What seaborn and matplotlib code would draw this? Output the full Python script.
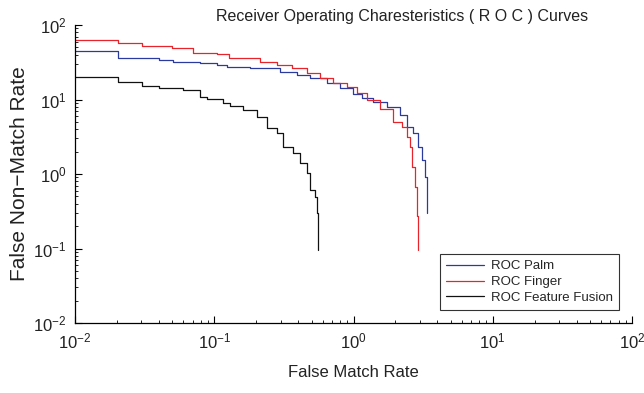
import numpy as np
import pandas as pd
import matplotlib
matplotlib.use("Agg")
import matplotlib.pyplot as plt
import seaborn as sns
from matplotlib.ticker import LogLocator, NullFormatter, FixedLocator, FixedFormatter

# ---- data ----
palm_fmr = [0.01, 0.0204, 0.0401, 0.0505, 0.0789, 0.1045, 0.1233, 0.180, 0.296, 0.392,
            0.486, 0.644, 0.798, 0.990, 1.15, 1.378, 1.738, 2.153, 2.417, 2.67, 2.90,
            3.10, 3.26, 3.37]
palm_fnmr = [45.2, 36.4, 34.2, 31.6, 30.6, 29.0, 27.1, 26.2, 23.6, 21.3,
             19.3, 16.5, 14.1, 11.85, 10.6, 9.3, 8.0, 6.19, 4.31, 3.52, 2.32,
             1.54, 0.92, 0.297]

finger_fmr = [0.01, 0.0204, 0.0303, 0.0497, 0.0703, 0.1045, 0.128, 0.213, 0.282, 0.361,
              0.463, 0.574, 0.711, 0.897, 1.057, 1.248, 1.547, 1.918, 2.225, 2.417,
              2.54, 2.624, 2.76, 2.85, 2.90]
finger_fnmr = [63.0, 56.8, 52.7, 48.7, 41.7, 40.4, 36.5, 32.2, 29.0, 26.2,
               22.5, 19.3, 16.5, 14.6, 12.1, 9.8, 7.5, 5.04, 4.31, 3.17,
               2.32, 1.25, 0.675, 0.27, 0.0955]

fusion_fmr = [0.01, 0.0204, 0.0303, 0.0401, 0.0596, 0.0789, 0.0888, 0.1155, 0.1297, 0.1607,
              0.2025, 0.239, 0.282, 0.311, 0.367, 0.412, 0.463, 0.486, 0.528, 0.546, 0.555]
fusion_fnmr = [20.2, 17.3, 15.3, 14.4, 13.4, 10.9, 10.2, 8.89, 8.3, 7.23,
               5.88, 4.11, 3.52, 2.32, 1.90, 1.39, 1.02, 0.61, 0.495, 0.297, 0.0955]

series_names = ["ROC Palm", "ROC Finger", "ROC Feature Fusion"]
series_colors = ["#2b3a9e", "#e8242a", "#111111"]

tick_vals = [1e-2, 1e-1, 1e0, 1e1, 1e2]
tick_labels = [r"$\mathregular{10^{-2}}$", r"$\mathregular{10^{-1}}$", r"$\mathregular{10^{0}}$",
               r"$\mathregular{10^{1}}$", r"$\mathregular{10^{2}}$"]

title = "Receiver Operating Charesteristics ( R O C ) Curves"
xlabel = "False Match Rate"
ylabel = "False Non\u2212Match Rate"

# ---- table ----
frames = []
for name, xs, ys in zip(series_names,
                        [palm_fmr, finger_fmr, fusion_fmr],
                        [palm_fnmr, finger_fnmr, fusion_fnmr]):
    frames.append(pd.DataFrame({"fmr": xs, "fnmr": ys, "curve": name}))
df = pd.concat(frames, ignore_index=True)

REGULAR = ["Liberation Sans", "DejaVu Sans"]

sns.set_theme(style="white")
plt.rcParams["font.family"] = REGULAR
plt.rcParams["mathtext.fontset"] = "custom"
plt.rcParams["mathtext.rm"] = "Liberation Sans"
plt.rcParams["mathtext.it"] = "Liberation Sans:italic"

fig = plt.figure(figsize=(6.44, 3.93), dpi=100)
ax = fig.add_axes([75 / 644, 1 - 323 / 393, (632 - 75) / 644, (323 - 25) / 393])

sns.lineplot(data=df, x="fmr", y="fnmr", hue="curve", hue_order=series_names,
             palette=dict(zip(series_names, series_colors)), estimator=None, sort=False,
             drawstyle="steps-post", linewidth=0.9, ax=ax, legend=False)

ax.set_xscale("log")
ax.set_yscale("log")
ax.set_xlim(1e-2, 1e2)
ax.set_ylim(1e-2, 1e2)

for s in ["top", "right"]:
    ax.spines[s].set_visible(False)
for s in ["left", "bottom"]:
    ax.spines[s].set_color("black")
    ax.spines[s].set_linewidth(0.9)

ax.xaxis.set_major_locator(FixedLocator(tick_vals))
ax.xaxis.set_major_formatter(FixedFormatter(tick_labels))
ax.yaxis.set_major_locator(FixedLocator(tick_vals))
ax.yaxis.set_major_formatter(FixedFormatter(tick_labels))
ax.xaxis.set_minor_locator(LogLocator(base=10, subs=np.arange(2, 10), numticks=20))
ax.yaxis.set_minor_locator(LogLocator(base=10, subs=np.arange(2, 10), numticks=20))
ax.xaxis.set_minor_formatter(NullFormatter())
ax.yaxis.set_minor_formatter(NullFormatter())
ax.tick_params(which="major", direction="in", length=5, width=0.8, color="black",
               labelsize=12, labelcolor="#222222", pad=6)
ax.tick_params(which="minor", direction="in", length=2.5, width=0.6, color="black")
ax.tick_params(axis="both", which="both", bottom=True, left=True, top=False, right=False)

ax.set_xlabel(xlabel, fontsize=12, color="#222222")
ax.xaxis.set_label_coords(0.5, (323 - 365) / 298)
ax.set_ylabel(ylabel, fontsize=15, color="#222222")
ax.yaxis.set_label_coords((29 - 75) / 557, 0.5)
fig.text(402 / 644, 1 - 16 / 393, title, ha="center", va="center", fontsize=11.5,
         color="#222222")

handles = [plt.Line2D([], [], color=c, linewidth=0.9) for c in series_colors]
leg = ax.legend(handles, series_names, loc="lower right",
                bbox_to_anchor=((619 - 75) / 557, (323 - 310) / 298),
                prop={"family": REGULAR, "size": 9.5}, frameon=True, fancybox=False,
                handlelength=2.9, borderpad=0.45, labelspacing=0.28, handletextpad=0.5,
                borderaxespad=0)
leg.get_frame().set_edgecolor("black")
leg.get_frame().set_linewidth(0.8)

fig.savefig("out.png", dpi=100)
